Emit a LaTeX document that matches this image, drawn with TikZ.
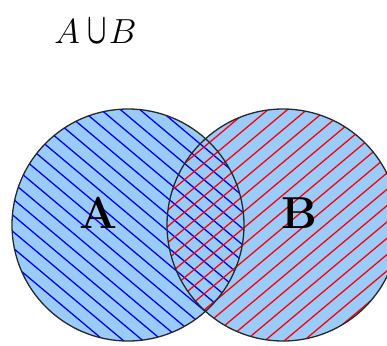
\documentclass[tikz,border=0pt]{standalone}
\usepackage{amsmath,bm}
\usetikzlibrary{calc}
\definecolor{vennfill}{RGB}{153,204,250}
\definecolor{hatchblue}{RGB}{0,0,255}
\definecolor{hatchred}{RGB}{255,0,0}
\definecolor{rim}{RGB}{40,40,40}
\tikzset{
  hatchA/.style={hatchblue, line width=1.3pt},
  hatchB/.style={hatchred, line width=1.3pt},
  rimline/.style={rim, line width=1.3pt},
  setlabel/.style={font=\Huge\bfseries, scale=1.8, inner sep=0pt},
  titlelabel/.style={font=\Huge, scale=1.4, inner sep=0pt},
}
\begin{document}
\begin{tikzpicture}[x=1pt,y=-1pt]
\useasboundingbox (0,0) rectangle (387,345);
\coordinate (cA) at (128,225);
\coordinate (cB) at (283,225);
\fill[vennfill] (cA) circle[radius=116];
\fill[vennfill] (cB) circle[radius=116];
\begin{scope}
  \clip (cA) circle[radius=116];
  \begin{scope}[shift={(cA)}, rotate=-40]
    \foreach \k in {-11,...,11}
      \draw[hatchA] (-140,\k*12.5+4) -- (140,\k*12.5+4);
  \end{scope}
\end{scope}
\begin{scope}
  \clip (cB) circle[radius=116];
  \begin{scope}[shift={(cB)}, rotate=40]
    \foreach \k in {-11,...,11}
      \draw[hatchB] (-140,\k*12.5+2) -- (140,\k*12.5+2);
  \end{scope}
\end{scope}
\draw[rimline] (cA) circle[radius=116];
\draw[rimline] (cB) circle[radius=116];
\node[setlabel] (labA) at (99,213) {A};
\node[setlabel] (labB) at (299,213) {B};
\node[titlelabel] (title) at (95.5,31) {$A\mkern4mu\scalebox{0.72}[1.25]{$\bm{\cup}$}\mkern1mu B$};
\end{tikzpicture}
\end{document}
